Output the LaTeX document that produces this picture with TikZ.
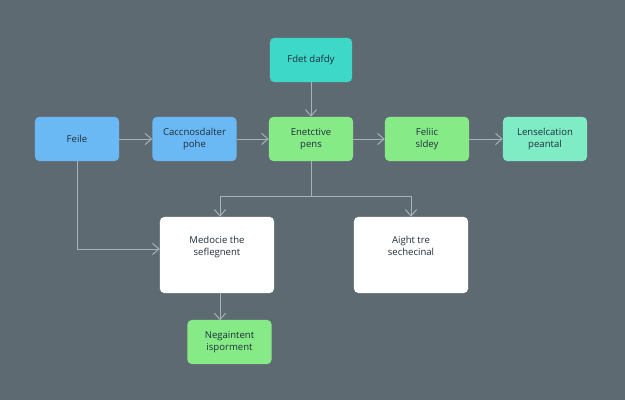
\documentclass[tikz,border=0pt]{standalone}
\usepackage{fontspec}
\setmainfont{Open Sans}
\usetikzlibrary{arrows.meta, positioning, calc}
\definecolor{slatebg}{HTML}{5E6A72}
\definecolor{linegray}{HTML}{A9B1B6}
\definecolor{inkdark}{HTML}{1E2F3C}
\definecolor{skyblue}{HTML}{6BB9F4}
\definecolor{aquateal}{HTML}{3ED8C9}
\definecolor{leafgreen}{HTML}{86EB86}
\definecolor{mintgreen}{HTML}{80ECC6}

\begin{document}
\begin{tikzpicture}[
  x=0.025cm, y=-0.025cm,
  >={Straight Barb[length=1.6mm, width=2.8mm]},
  stepbox/.style={
    rounded corners=3pt, minimum width=2.1cm, minimum height=1.1cm,
    font=\fontsize{6.8}{8.2}\selectfont, text=inkdark, align=center, inner sep=2pt
  },
  bigbox/.style={stepbox, fill=white, minimum width=2.85cm, minimum height=1.9cm},
  arr/.style={->, line width=0.7pt, linegray},
]

% Background
\fill[slatebg] (0,0) rectangle (625,400);

% =============================================
% Top input
% =============================================
\node[stepbox, fill=aquateal, minimum width=2.05cm] (fdet) at (311,60) {Fdet dafdy};

% =============================================
% Main row
% =============================================
\node[stepbox, fill=skyblue] (feile) at (77,139) {Feile};
\node[stepbox, fill=skyblue] (caccno) at (194.5,139) {Caccnosdalter\\pohe};
\node[stepbox, fill=leafgreen] (enet) at (311,139) {Enetctive\\pens};
\node[stepbox, fill=leafgreen] (feliic) at (427,139) {Feliic\\sldey};
\node[stepbox, fill=mintgreen] (lensel) at (545,139) {Lenselcation\\peantal};

% =============================================
% Lower boxes
% =============================================
\node[bigbox] (medocie) at (217,255) {Medocie the\\seflegnent\\[5pt]};
\node[bigbox] (aight) at (411,255) {Aight tre\\sechecinal\\[5pt]};
\node[stepbox, fill=leafgreen] (negaint) at (229.5,342) {Negaintent\\isporment};

% Connectors
\draw[arr] (fdet) -- (enet);
\draw[arr] (feile) -- (caccno);
\draw[arr] (caccno) -- (enet);
\draw[arr] (enet) -- (feliic);
\draw[arr] (feliic) -- (lensel);

\coordinate (split) at (311,196);
\draw[arr] (enet.south) -- (split) -| ($(medocie.north)+(3,0)$);
\draw[arr] (split) -| (aight.north);
\draw[arr] (feile.south) |- ($(medocie.west)+(0,-6)$);
\draw[arr] ($(medocie.south)+(3,0)$) -- ($(medocie.south)+(3,27)$);

\end{tikzpicture}
\end{document}
